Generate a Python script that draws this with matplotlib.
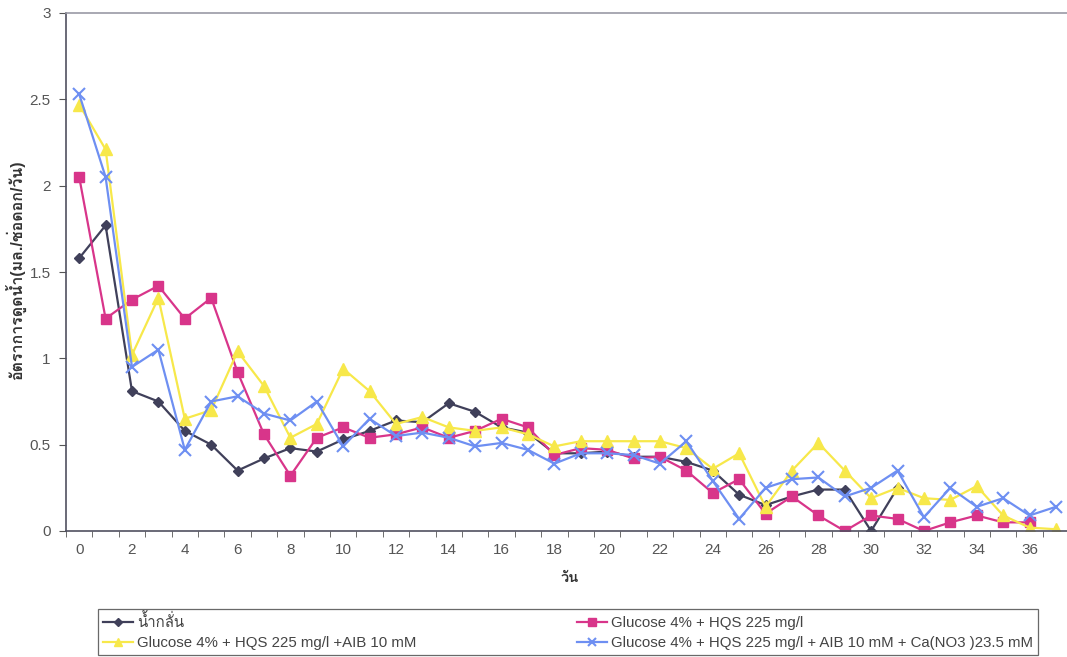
import matplotlib
matplotlib.use("Agg")
import matplotlib.pyplot as plt
from matplotlib import font_manager
from matplotlib.ft2font import FT2Font
from matplotlib.ticker import FixedLocator

# Water uptake rate per day for each holding solution
days_black = list(range(0, 32))
water = [1.58, 1.77, 0.81, 0.75, 0.58, 0.50, 0.35, 0.42, 0.48, 0.46,
         0.53, 0.58, 0.64, 0.63, 0.74, 0.69, 0.60, 0.57, 0.45, 0.45,
         0.46, 0.43, 0.43, 0.40, 0.35, 0.21, 0.15, 0.20, 0.24, 0.24,
         0.00, 0.25]

days_magenta = list(range(0, 37))
glu_hqs = [2.05, 1.23, 1.34, 1.42, 1.23, 1.35, 0.92, 0.56, 0.32, 0.54,
           0.60, 0.54, 0.56, 0.60, 0.54, 0.58, 0.65, 0.60, 0.44, 0.48,
           0.47, 0.42, 0.43, 0.35, 0.22, 0.30, 0.10, 0.20, 0.09, 0.00,
           0.09, 0.07, 0.00, 0.05, 0.09, 0.05, 0.05]

days_yellow = list(range(0, 38))
glu_hqs_aib = [2.47, 2.21, 1.02, 1.35, 0.65, 0.70, 1.04, 0.84, 0.54, 0.62,
               0.94, 0.81, 0.62, 0.66, 0.60, 0.58, 0.60, 0.56, 0.49, 0.52,
               0.52, 0.52, 0.52, 0.48, 0.36, 0.45, 0.14, 0.35, 0.51, 0.35,
               0.19, 0.25, 0.19, 0.18, 0.26, 0.09, 0.02, 0.01]

days_blue = list(range(0, 38))
glu_hqs_aib_ca = [2.53, 2.05, 0.95, 1.05, 0.47, 0.75, 0.78, 0.68, 0.64, 0.75,
                  0.49, 0.65, 0.55, 0.57, 0.54, 0.49, 0.51, 0.47, 0.39, 0.45,
                  0.45, 0.44, 0.39, 0.52, 0.29, 0.07, 0.25, 0.30, 0.31, 0.20,
                  0.25, 0.35, 0.08, 0.25, 0.14, 0.19, 0.09, 0.14]

labels = ["น้ำกลั่น",
          "Glucose 4% + HQS 225 mg/l",
          "Glucose 4% + HQS 225 mg/l +AIB 10 mM",
          "Glucose 4% + HQS 225 mg/l + AIB 10 mM + Ca(NO3 )23.5 mM"]
x_tick_labels = [str(d) for d in range(0, 38, 2)]
y_ticks = [0, 0.5, 1, 1.5, 2, 2.5, 3]
y_tick_labels = ["0", "0.5", "1", "1.5", "2", "2.5", "3"]


def thai_family():
    # first installed family that carries Thai glyphs
    seen = set()
    for f in font_manager.fontManager.ttflist:
        if f.fname in seen:
            continue
        seen.add(f.fname)
        try:
            cmap = FT2Font(f.fname).get_charmap()
        except Exception:
            continue
        if 0x0E31 in cmap and 0x0E49 in cmap and 0x0E19 in cmap:
            return f.name
    return None


thai = thai_family()
fams = ["Liberation Sans"] + ([thai] if thai else []) + ["DejaVu Sans"]
plt.rcParams["font.family"] = fams

fig = plt.figure(figsize=(10.67, 6.57), dpi=100)
ax = fig.add_axes([66 / 1067, 1 - 531 / 657, 1 - 66 / 1067, (531 - 13) / 657])

c_black = "#40405a"
c_mag = "#d8358a"
c_yel = "#f7e84a"
c_blue = "#6e8ff2"

h1, = ax.plot(days_black, water, color=c_black, marker="D", ms=5.5, lw=1.6,
              label=labels[0])
h2, = ax.plot(days_magenta, glu_hqs, color=c_mag, marker="s", ms=7, lw=1.6,
              label=labels[1])
h3, = ax.plot(days_yellow, glu_hqs_aib, color=c_yel, marker="^", ms=8, lw=1.6,
              label=labels[2])
h4, = ax.plot(days_blue, glu_hqs_aib_ca, color=c_blue, marker="x", ms=8,
              mew=1.5, lw=1.6, label=labels[3])

ax.set_xlim(-0.5, 37.42)
ax.set_ylim(0, 3)

ax.xaxis.set_major_locator(FixedLocator(list(range(0, 38, 2))))
ax.set_xticklabels(x_tick_labels)
ax.xaxis.set_minor_locator(FixedLocator([k + 0.5 for k in range(-1, 38)]))
ax.tick_params(axis="x", which="major", length=0, pad=9, labelsize=11,
               labelcolor="#555555")
ax.tick_params(axis="x", which="minor", length=4, direction="out",
               color="#555555")
ax.set_yticks(y_ticks)
ax.set_yticklabels(y_tick_labels)
ax.tick_params(axis="y", length=5, direction="out", color="#555555",
               labelsize=11, labelcolor="#555555", pad=6)

for side in ("left", "bottom", "top"):
    ax.spines[side].set_color("#505060")
    ax.spines[side].set_linewidth(1.2)
ax.spines["top"].set_color("#9a9aa5")
ax.spines["right"].set_visible(False)

ax.set_xlabel("วัน", fontsize=10.5, fontweight="bold", color="#333333")
ax.xaxis.set_label_coords((570 - 66) / 1001, -(578 - 531) / 518)
ax.xaxis.label.set_va("center")
ax.set_ylabel("อัตราการดูดน้ำ(มล./ช่อดอก/วัน)", fontsize=11.5,
              fontweight="bold", color="#333333")
ax.yaxis.set_label_coords(-(66 - 26) / 1001, (531 - 270) / 518)

leg = fig.legend([h1, h3, h2, h4], [labels[0], labels[2], labels[1], labels[3]],
                 ncol=2, loc="upper left",
                 bbox_to_anchor=(98 / 1067, 1 - 609 / 657),
                 fontsize=10.8, frameon=True, fancybox=False, borderpad=0.3,
                 handlelength=2.0, handletextpad=0.3, labelspacing=0.4,
                 columnspacing=10.7, borderaxespad=0, markerscale=0.75)
leg.get_frame().set_edgecolor("#444444")
leg.get_frame().set_linewidth(0.9)
for t in leg.get_texts():
    t.set_color("#444444")

fig.savefig("out.png", dpi=100)
